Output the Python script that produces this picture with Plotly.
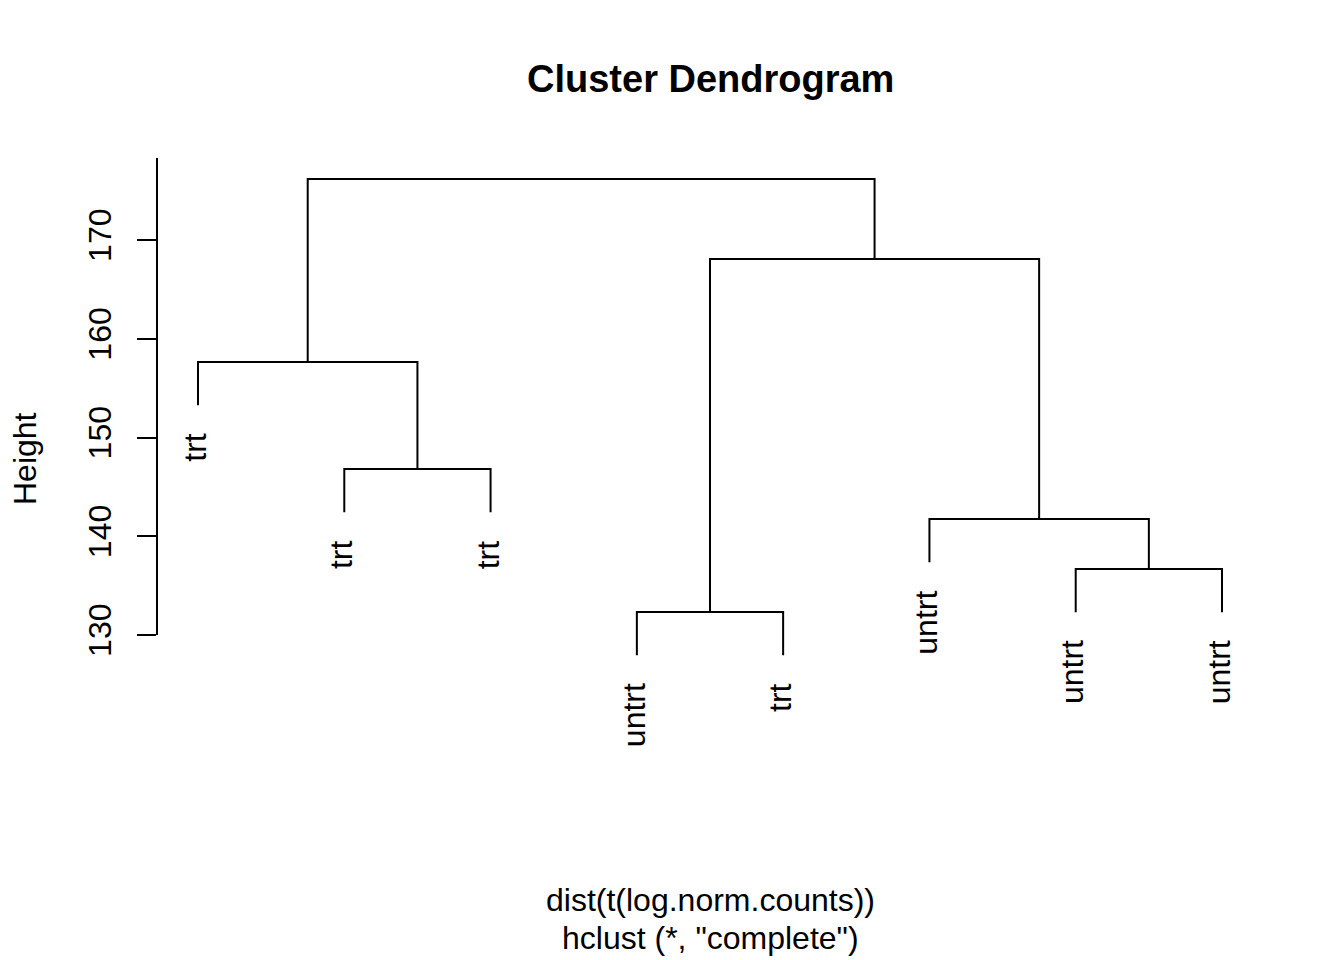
import plotly.graph_objects as go

# ---- data ----
leaf_labels = ["trt", "trt", "trt", "untrt", "trt", "untrt", "untrt", "untrt"]
# R-style merge matrix: negative = leaf position (1-based, in plot order), positive = earlier merge
merge_pairs = [(-7, -8), (-4, -5), (-2, -3), (-6, 1), (-1, 3), (2, 4), (5, 6)]
merge_heights = [136.68, 132.33, 146.81, 141.75, 157.65, 168.08, 176.18]
y_ticks = [130, 140, 150, 160, 170]
title_text = "Cluster Dendrogram"
sub_line1 = "dist(t(log.norm.counts))"
sub_line2 = 'hclust (*, "complete")'
y_title = "Height"

# ---- layout geometry ----
L, R_, T, B = 157, 1263, 158, 760
W, H = 1344, 960
hang = 0.1 * (max(merge_heights) - min(merge_heights))
n = len(leaf_labels)
px_per_x = (1222 - 198) / (n - 1)
x_lo = 1 - (198 - L) / px_per_x
x_hi = n + (R_ - 1222) / px_per_x
px_per_y = (635 - 240) / 40.0
y_hi = 130 + (635 - T) / px_per_y
y_lo = 130 - (B - 635) / px_per_y

FONT = "Liberation Sans, Arial, sans-serif"

# ---- build segments ----
node_x = {}
xs, ys = [], []
for i, ((a, b), h) in enumerate(zip(merge_pairs, merge_heights), start=1):
    pts = []
    for c in (a, b):
        if c < 0:
            cx, ch = -c, h - hang
        else:
            cx, ch = node_x[c], merge_heights[c - 1]
        pts.append((cx, ch))
    (xa, ha), (xb, hb) = pts
    xs += [xa, xa, xb, xb, None]
    ys += [ha, h, h, hb, None]
    node_x[i] = (xa + xb) / 2

fig = go.Figure()
fig.add_trace(go.Scatter(x=xs, y=ys, mode="lines",
                         line=dict(color="black", width=2),
                         hoverinfo="skip", showlegend=False))

annotations = []
# leaf labels
leaf_end = {}
for (a, b), h in zip(merge_pairs, merge_heights):
    for c in (a, b):
        if c < 0:
            leaf_end[-c] = h - hang
for pos in range(1, n + 1):
    annotations.append(dict(x=pos, y=leaf_end[pos], xref="x", yref="y",
                            text=leaf_labels[pos - 1], showarrow=False,
                            textangle=-90, xanchor="center", yanchor="top",
                            xshift=-3, yshift=-26,
                            font=dict(family=FONT, size=32, color="black")))


def py(px):
    return (B - px) / (B - T)


def pxx(px):
    return (px - L) / (R_ - L)


annotations += [
    dict(x=pxx(710), y=py(79), xref="paper", yref="paper", text="<b>" + title_text + "</b>",
         showarrow=False, xanchor="center", yanchor="middle",
         font=dict(family=FONT, size=38, color="black")),
    dict(x=pxx(710), y=py(900), xref="paper", yref="paper", text=sub_line1,
         showarrow=False, xanchor="center", yanchor="middle",
         font=dict(family=FONT, size=32, color="black")),
    dict(x=pxx(710), y=py(938), xref="paper", yref="paper", text=sub_line2,
         showarrow=False, xanchor="center", yanchor="middle",
         font=dict(family=FONT, size=32, color="black")),
    dict(x=pxx(25), y=py(459), xref="paper", yref="paper", text=y_title,
         showarrow=False, xanchor="center", yanchor="middle", textangle=-90,
         font=dict(family=FONT, size=32, color="black")),
]

fig.update_layout(
    width=W, height=H,
    margin=dict(l=L, r=W - R_, t=T, b=H - B, pad=0),
    paper_bgcolor="white", plot_bgcolor="white",
    showlegend=False,
    annotations=annotations,
    shapes=[dict(type="line", xref="paper", yref="y", x0=0, x1=0,
                 y0=min(y_ticks), y1=y_hi, line=dict(color="black", width=2))],
    xaxis=dict(range=[x_lo, x_hi], visible=False, fixedrange=True),
    yaxis=dict(range=[y_lo, y_hi], showgrid=False, zeroline=False, showline=False,
               tickvals=y_ticks, ticktext=[str(t) for t in y_ticks],
               ticks="outside", ticklen=19, tickwidth=2, tickcolor="black",
               tickangle=-90, ticklabelstandoff=13,
               tickfont=dict(family=FONT, size=32, color="black"), fixedrange=True),
)

fig.write_html("out.html", config={"displayModeBar": False})
